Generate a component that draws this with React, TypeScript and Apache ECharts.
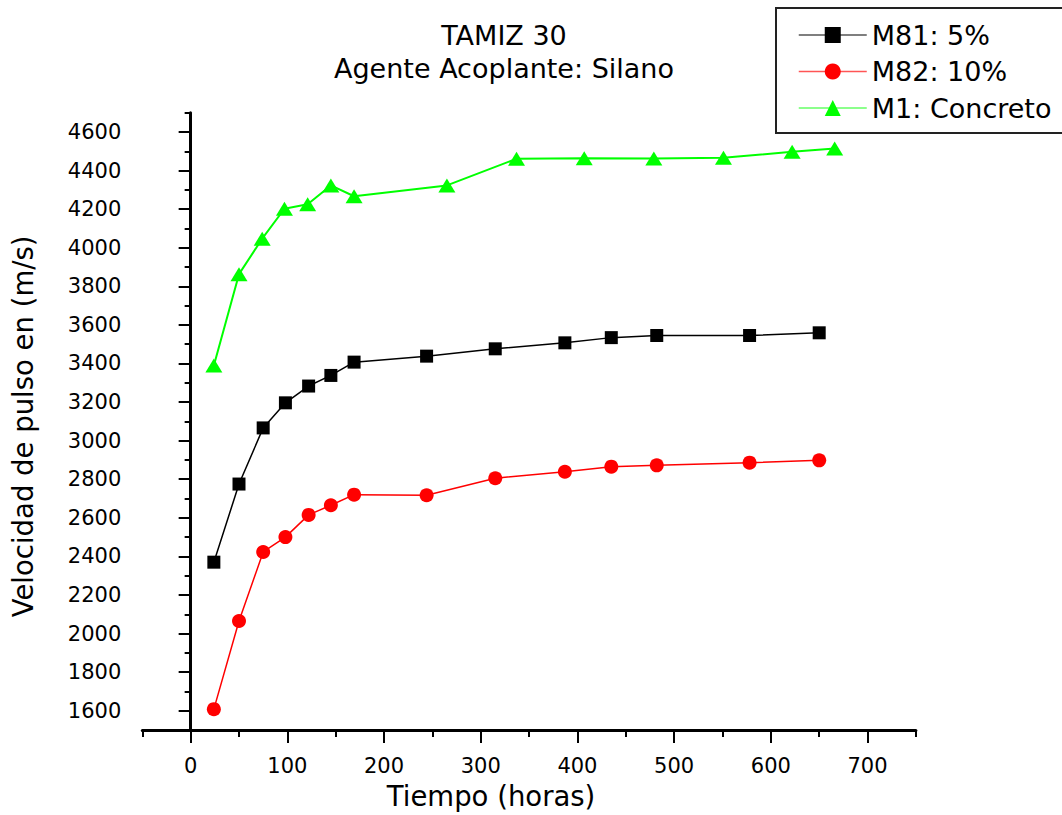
import React, { useEffect, useRef } from "react";
import * as echarts from "echarts";

const FONT = "DejaVu Sans";

const timesM8 = [24, 50, 75, 98, 122, 145, 169, 244, 315, 387, 435, 482, 578, 650];
const m81Values = [2370, 2775, 3066, 3196, 3283, 3338, 3407, 3438, 3476, 3507, 3534, 3545, 3545, 3559];
const m82Values = [1608, 2065, 2423, 2500, 2615, 2665, 2720, 2717, 2805, 2839, 2865, 2872, 2886, 2898];
const timesM1 = [24, 50, 74, 97, 121, 145, 169, 265, 337, 407, 479, 551, 622, 666];
const m1Values = [3390, 3863, 4047, 4202, 4225, 4323, 4267, 4323, 4461, 4464, 4462, 4466, 4497, 4515];

const xMajorTicks = [0, 100, 200, 300, 400, 500, 600, 700];
const xMinorTicks = [-50, 50, 150, 250, 350, 450, 550, 650, 750];
const yMajorTicks = [1600, 1800, 2000, 2200, 2400, 2600, 2800, 3000, 3200, 3400, 3600, 3800, 4000, 4200, 4400, 4600];
const yMinorTicks = [1500, 1700, 1900, 2100, 2300, 2500, 2700, 2900, 3100, 3300, 3500, 3700, 3900, 4100, 4300, 4500, 4700];

const seriesNames = ["M81: 5%", "M82: 10%", "M1: Concreto"];
const seriesColors = ["#000000", "#ff0000", "#00ff00"];
const legendLineColors = ["#555555", "#ff5555", "#66ff66"];

const zip = (xs: number[], ys: number[]) => xs.map((x, i) => [x, ys[i]]);

export default function App() {
  const ref = useRef<HTMLDivElement>(null);
  useEffect(() => {
    if (!ref.current) return;
    const chart = echarts.init(ref.current, undefined, { renderer: "svg" });
    const axisLine = { lineStyle: { color: "#000", width: 3 } };
    const tickStyle = { color: "#000", width: 2 };
    chart.setOption({
      animation: false,
      backgroundColor: "#fff",
      title: {
        text: "TAMIZ 30\nAgente Acoplante: Silano",
        left: 504,
        top: 19,
        padding: 0,
        textAlign: "center",
        textStyle: { fontFamily: FONT, fontSize: 27, lineHeight: 33, fontWeight: "normal", color: "#000" },
      },
      legend: {
        orient: "vertical",
        left: 798,
        top: 21,
        padding: 0,
        itemWidth: 68,
        itemHeight: 20,
        itemGap: 8.5,
        data: seriesNames.map((n, i) => ({ name: n, lineStyle: { color: legendLineColors[i], width: 1.5 } })),
        textStyle: { fontFamily: FONT, fontSize: 27, lineHeight: 28, color: "#000" },
      },
      graphic: [
        {
          type: "rect",
          shape: { x: 776, y: 8, width: 320, height: 125 },
          style: { fill: "none", stroke: "#222", lineWidth: 2 },
          z: -1,
        },
      ],
      grid: { left: 142.3, right: 146.1, top: 112.7, bottom: 82.3 },
      xAxis: [
        {
          type: "value",
          min: -50,
          max: 750,
          axisLine,
          axisTick: { show: true, customValues: xMajorTicks, length: 13, lineStyle: tickStyle },
          axisLabel: {
            customValues: xMajorTicks,
            formatter: (v: number) => String(v),
            fontFamily: FONT,
            fontSize: 21,
            color: "#000",
            margin: 25,
          },
          splitLine: { show: false },
          name: "Tiempo (horas)",
          nameLocation: "middle",
          nameGap: 52,
          nameTextStyle: { fontFamily: FONT, fontSize: 27.5, color: "#000", padding: [0, 76, 0, 0] },
        },
        {
          type: "value",
          min: -50,
          max: 750,
          position: "bottom",
          axisLine: { show: false },
          axisTick: { show: true, customValues: xMinorTicks, length: 7, lineStyle: tickStyle },
          axisLabel: { show: false },
          splitLine: { show: false },
        },
      ],
      yAxis: [
        {
          type: "value",
          min: 1500,
          max: 4700,
          axisLine: { show: true, ...axisLine },
          axisTick: { show: true, customValues: yMajorTicks, length: 12, lineStyle: tickStyle },
          axisLabel: {
            customValues: yMajorTicks,
            formatter: (v: number) => String(v),
            fontFamily: FONT,
            fontSize: 21,
            color: "#000",
            margin: 21,
          },
          splitLine: { show: false },
          name: "Velocidad de pulso en (m/s)",
          nameLocation: "middle",
          nameGap: 105,
          nameTextStyle: { fontFamily: FONT, fontSize: 27.5, color: "#000", padding: [0, 10, 0, 0] },
        },
        {
          type: "value",
          min: 1500,
          max: 4700,
          position: "left",
          axisLine: { show: false },
          axisTick: { show: true, customValues: yMinorTicks, length: 6, lineStyle: tickStyle },
          axisLabel: { show: false },
          splitLine: { show: false },
        },
      ],
      series: [
        {
          name: seriesNames[0],
          type: "line",
          data: zip(timesM8, m81Values),
          symbol: "rect",
          symbolSize: 13,
          itemStyle: { color: seriesColors[0] },
          lineStyle: { color: seriesColors[0], width: 1.5 },
        },
        {
          name: seriesNames[1],
          type: "line",
          data: zip(timesM8, m82Values),
          symbol: "circle",
          symbolSize: 14,
          itemStyle: { color: seriesColors[1] },
          lineStyle: { color: seriesColors[1], width: 1.5 },
        },
        {
          name: seriesNames[2],
          type: "line",
          data: zip(timesM1, m1Values),
          symbol: "triangle",
          symbolSize: [17, 14],
          itemStyle: { color: seriesColors[2] },
          lineStyle: { color: seriesColors[2], width: 2 },
        },
      ],
    });
    return () => chart.dispose();
  }, []);
  return <div ref={ref} style={{ position: "fixed", left: 0, top: 0, width: 1062, height: 815 }} />;
}
